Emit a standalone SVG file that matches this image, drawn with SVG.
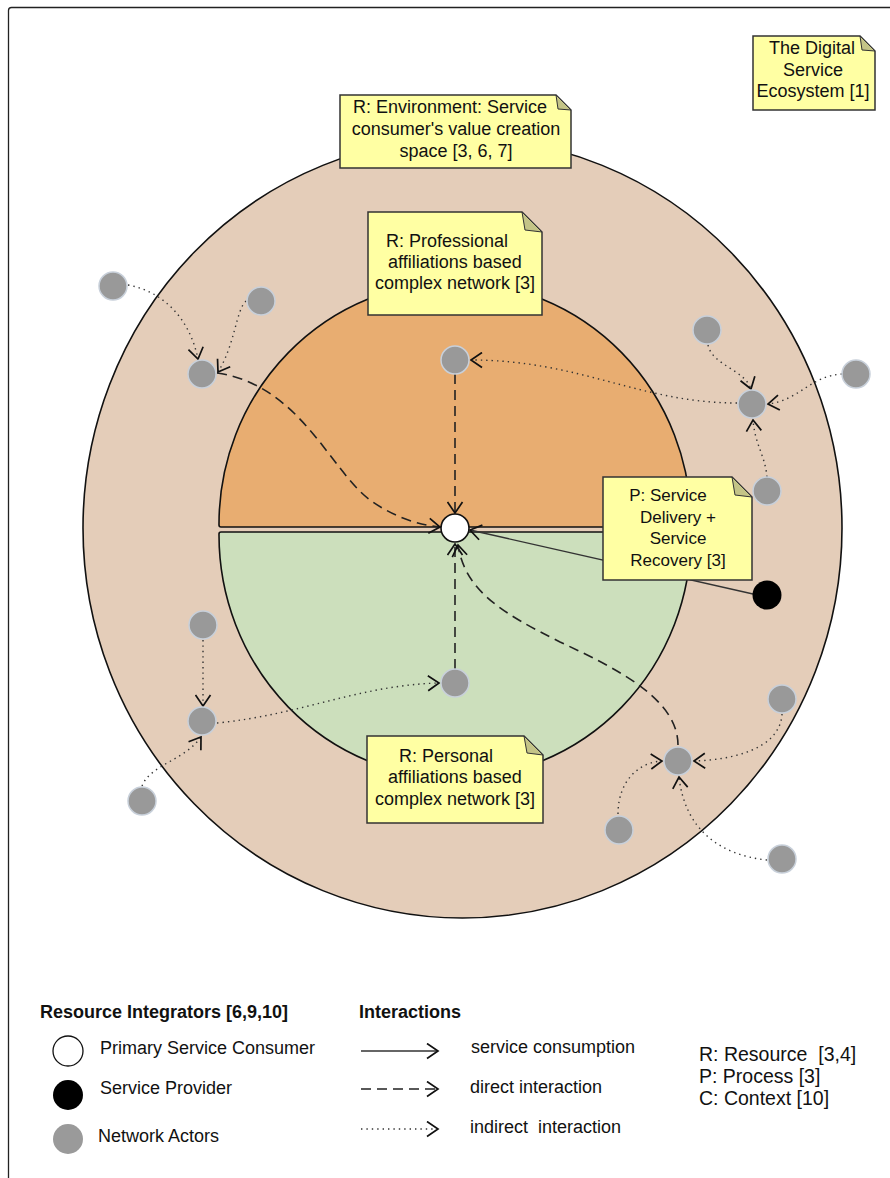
<svg xmlns="http://www.w3.org/2000/svg" width="890" height="1178" viewBox="0 0 890 1178">
<style>
text{font-family:"Liberation Sans",Arial,sans-serif;fill:#111}
.nt{font-size:18px;text-anchor:middle}
.lg{font-size:18px}
.lg2{font-size:18px}
.hd{font-size:18px;font-weight:bold}
.note{fill:#FFFFA3;stroke:#333;stroke-width:1.5}
.fold{fill:#C4C487;stroke:#333;stroke-width:1}
.act{fill:#999;stroke:#C8D0DA;stroke-width:1.5}
.dash{fill:none;stroke:#222;stroke-width:1.6;stroke-dasharray:10 6;marker-end:url(#ah)}
.dot{fill:none;stroke:#333;stroke-width:1.4;stroke-dasharray:1.4 4;marker-end:url(#ah)}
.sol{fill:none;stroke:#333;stroke-width:1.4;marker-end:url(#ah)}
</style>
<defs>
<marker id="ah" markerUnits="userSpaceOnUse" markerWidth="15" markerHeight="17" viewBox="0 0 15 17" refX="13" refY="8.5" orient="auto">
<path d="M2,1 L13,8.5 L2,16" fill="none" stroke="#111" stroke-width="1.7"/>
</marker>
</defs>
<rect x="8.5" y="7.5" width="900" height="1200" rx="3" fill="#fff" stroke="#222" stroke-width="1.3"/>
<g id="ecosystem">
<ellipse cx="462.5" cy="528" rx="379.5" ry="390" fill="#E4CDB9" stroke="#111" stroke-width="1.6"/>
</g>
<g id="professional-network">
<path d="M219,524 A236,242 0 0 1 691,524 L691,525 Q691,527 689,527 L221,527 Q219,527 219,525 Z" fill="#E8AD71" stroke="#111" stroke-width="1.6"/>
</g>
<g id="personal-network">
<path d="M219,535 A236,243 0 0 0 691,535 L691,534 Q691,532 689,532 L221,532 Q219,532 219,534 Z" fill="#CCDFBC" stroke="#111" stroke-width="1.6"/>
</g>
<g id="connectors">
<path class="sol" d="M753,594 L470,530"/>
<path class="dash" d="M217,373 C300,385 330,470 370,500 C395,518 420,525 440,527"/>
<path class="dash" d="M455,374 L455,513"/>
<path class="dash" d="M455,669 L455,544"/>
<path class="dash" d="M678,745 C678,700 620,670 560,642 C500,612 465,590 458,545"/>
<path class="dot" d="M128,285 C165,292 190,320 198,359"/>
<path class="dot" d="M246,301 C236,310 235,345 218,372"/>
<path class="dot" d="M737,403 C640,403 580,360 471,360"/>
<path class="dot" d="M708,345 C712,365 745,370 751,389"/>
<path class="dot" d="M842,374 C810,376 800,400 768,404"/>
<path class="dot" d="M767,477 C765,455 755,445 753,420"/>
<path class="dot" d="M203,640 L203,706"/>
<path class="dot" d="M142,786 C150,765 185,760 201,737"/>
<path class="dot" d="M217,723 C300,715 360,685 439,683"/>
<path class="dot" d="M782,714 C780,750 730,760 694,761"/>
<path class="dot" d="M618,814 C618,780 640,762 662,761"/>
<path class="dot" d="M767,860 C720,855 685,830 679,777"/>
</g>
<g id="consumer"><circle cx="455" cy="528" r="14" fill="#fff" stroke="#111" stroke-width="1.6"/></g>
<g id="provider"><circle cx="767" cy="595" r="14.5" fill="#000"/></g>
<g id="actors">
<circle class="act" cx="113" cy="286" r="14"/>
<circle class="act" cx="261" cy="301" r="14"/>
<circle class="act" cx="202" cy="374" r="14"/>
<circle class="act" cx="455" cy="360" r="14"/>
<circle class="act" cx="707" cy="330" r="14"/>
<circle class="act" cx="752" cy="404" r="14"/>
<circle class="act" cx="856" cy="374" r="14"/>
<circle class="act" cx="767" cy="491" r="14"/>
<circle class="act" cx="203" cy="625" r="14"/>
<circle class="act" cx="202" cy="721" r="14"/>
<circle class="act" cx="142" cy="801" r="14"/>
<circle class="act" cx="455" cy="683" r="14"/>
<circle class="act" cx="678" cy="761" r="14"/>
<circle class="act" cx="782" cy="699" r="14"/>
<circle class="act" cx="619" cy="830" r="14"/>
<circle class="act" cx="782" cy="859" r="14"/>
</g>
<g id="note-ecosystem">
<path class="note" d="M753,36 H860 L875,51 V110 H753 Z"/>
<path class="fold" d="M860,36 L862,50 L875,51 Z"/>
<text class="nt" x="812" y="54">The Digital</text>
<text class="nt" x="813" y="76">Service</text>
<text class="nt" x="813" y="97">Ecosystem [1]</text>
</g>
<g id="note-environment">
<path class="note" d="M340,95 H556 L571,110 V168 H340 Z"/>
<path class="fold" d="M556,95 L558,109 L571,110 Z"/>
<text class="nt" x="450" y="113">R: Environment: Service</text>
<text class="nt" x="456" y="135">consumer's value creation</text>
<text class="nt" x="456" y="157">space [3, 6, 7]</text>
</g>
<g id="note-professional">
<path class="note" d="M368,212 H522 L542,232 V315 H368 Z"/>
<path class="fold" d="M522,212 L525,230 L542,232 Z"/>
<text class="nt" x="447" y="247">R: Professional</text>
<text class="nt" x="455" y="268">affiliations based</text>
<text class="nt" x="455" y="289">complex network [3]</text>
</g>
<g id="note-process">
<path class="note" d="M603,477 H732 L752,497 V580 H603 Z"/>
<path class="fold" d="M732,477 L735,495 L752,497 Z"/>
<text class="nt" x="668" y="501" style="font-size:17px">P: Service</text>
<text class="nt" x="678" y="523" style="font-size:17px">Delivery +</text>
<text class="nt" x="678" y="544" style="font-size:17px">Service</text>
<text class="nt" x="678" y="566" style="font-size:17px">Recovery [3]</text>
</g>
<g id="note-personal">
<path class="note" d="M367,736 H524 L543,755 V823 H367 Z"/>
<path class="fold" d="M524,736 L527,753 L543,755 Z"/>
<text class="nt" x="446" y="762">R: Personal</text>
<text class="nt" x="455" y="783">affiliations based</text>
<text class="nt" x="455" y="805">complex network [3]</text>
</g>
<g id="legend">
<text class="hd" x="40" y="1018">Resource Integrators [6,9,10]</text>
<circle cx="68" cy="1051" r="15" fill="#fff" stroke="#111" stroke-width="1.3"/>
<text class="lg" x="100" y="1054">Primary Service Consumer</text>
<circle cx="68" cy="1095" r="15" fill="#000"/>
<text class="lg" x="100" y="1094">Service Provider</text>
<circle cx="68" cy="1139" r="15" fill="#9A9A9A"/>
<text class="lg" x="98" y="1142">Network Actors</text>
<text class="hd" x="359" y="1018">Interactions</text>
<path class="sol" d="M361,1051 L438,1051"/>
<text class="lg2" x="471" y="1053">service consumption</text>
<path class="dash" d="M361,1089 L438,1089"/>
<text class="lg2" x="470" y="1093">direct interaction</text>
<path class="dot" d="M361,1129 L438,1129"/>
<text class="lg2" x="470" y="1133" xml:space="preserve">indirect  interaction</text>
<text x="699" y="1061" style="font-size:19.5px" xml:space="preserve">R: Resource  [3,4]</text>
<text x="699" y="1083" style="font-size:19.5px">P: Process [3]</text>
<text x="699" y="1105" style="font-size:19.5px">C: Context [10]</text>
</g>
</svg>
